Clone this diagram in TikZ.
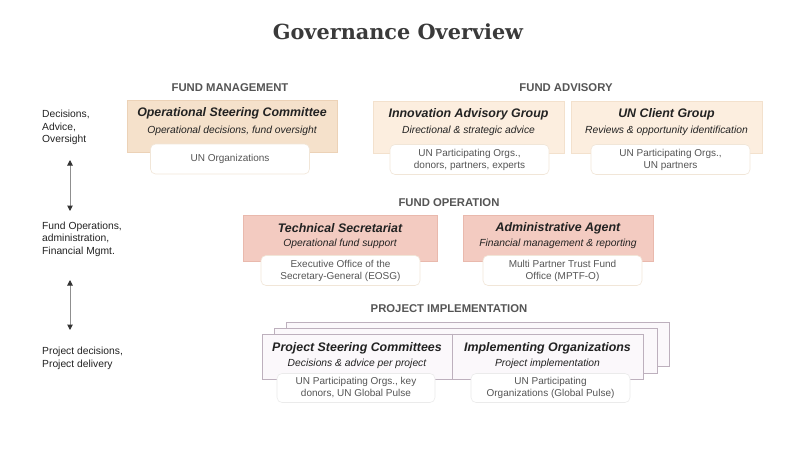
\documentclass[tikz,border=0pt]{standalone}
\usepackage{fontspec}
\setmainfont{Liberation Sans}
\newfontfamily\titlefont{DejaVu Serif}
\usetikzlibrary{arrows.meta}
\definecolor{titlegray}{HTML}{3A3A3A}
\definecolor{catgray}{HTML}{555555}
\definecolor{txtdark}{HTML}{222222}
\definecolor{txtgray}{HTML}{555555}
\definecolor{mgmtfill}{HTML}{F5E1CB}
\definecolor{mgmtdraw}{HTML}{ECD2B7}
\definecolor{advfill}{HTML}{FCEEDF}
\definecolor{advdraw}{HTML}{F3E1CD}
\definecolor{opfill}{HTML}{F3CBC1}
\definecolor{opdraw}{HTML}{E9B9AD}
\definecolor{prjfill}{HTML}{FBF8FB}
\definecolor{prjdraw}{HTML}{BDB0BD}
\definecolor{wbdraw}{HTML}{F1E6D8}
\definecolor{arrgray}{HTML}{8F8F8F}
\definecolor{arrhead}{HTML}{333333}
\begin{document}
\begin{tikzpicture}[x=1pt,y=-1pt,
  catlabel/.style={font=\fontsize{11.3}{13}\selectfont\bfseries, text=catgray, inner sep=0pt},
  boxtitle/.style={font=\fontsize{12.4}{14}\selectfont\bfseries\itshape, text=txtdark, inner sep=0pt},
  boxsub/.style={font=\fontsize{10.3}{12}\selectfont\itshape, text=txtdark, inner sep=0pt},
  whitebox/.style={draw=wbdraw, line width=0.6pt, fill=white, rounded corners=5pt, minimum width=159pt, minimum height=30pt, inner sep=0pt, align=center, text=txtgray, font=\fontsize{10}{12}\selectfont},
  mgmtbox/.style={draw=mgmtdraw, fill=mgmtfill, line width=0.6pt, inner sep=0pt},
  advbox/.style={draw=advdraw, fill=advfill, line width=0.6pt, inner sep=0pt},
  opbox/.style={draw=opdraw, fill=opfill, line width=0.6pt, inner sep=0pt},
  prjbox/.style={draw=prjdraw, fill=prjfill, line width=0.7pt, inner sep=0pt},
  sidelabel/.style={anchor=west, align=left, inner sep=0pt, text=txtdark, font=\fontsize{10.3}{12.4}\selectfont},
  biarrow/.style={draw=arrgray, line width=1pt, {Triangle[length=5.5pt,width=5.5pt,color=arrhead]}-{Triangle[length=5.5pt,width=5.5pt,color=arrhead]}}
]
\useasboundingbox (0,0) rectangle (800,448);
\fill[white] (0,0) rectangle (800,448);

% Title
\node[inner sep=0pt, text=titlegray, font=\fontsize{20.8}{24}\selectfont\titlefont\bfseries] (title) at (398,32) {Governance Overview};

% Side labels
\node[sidelabel] (side1) at (42,127.5) {Decisions,\\Advice,\\Oversight};
\node[sidelabel] (side2) at (42,239) {Fund Operations,\\administration,\\Financial Mgmt.};
\node[sidelabel] (side3) at (42,358.5) {Project decisions,\\Project delivery};
\coordinate (a1top) at (70,160);
\coordinate (a1bot) at (70,211);
\coordinate (a2top) at (70,280);
\coordinate (a2bot) at (70,330);
\draw[biarrow] (a1top) -- (a1bot);
\draw[biarrow] (a2top) -- (a2bot);

% Fund management
\node[catlabel] (catmgmt) at (230,88) {FUND MANAGEMENT};
\node[mgmtbox, minimum width=210pt, minimum height=52pt] (osc) at (232,126) {};
\node[boxtitle] (osct) at (232,113) {Operational Steering Committee};
\node[boxsub] (oscs) at (232,131) {Operational decisions, fund oversight};
\node[whitebox] (oscw) at (230,159) {UN Organizations};

% Fund advisory
\node[catlabel] (catadv) at (566,88) {FUND ADVISORY};
\node[advbox, minimum width=191pt, minimum height=52pt] (iag) at (468.5,127) {};
\node[boxtitle] (iagt) at (468.5,114) {Innovation Advisory Group};
\node[boxsub] (iags) at (468.5,131) {Directional \& strategic advice};
\node[whitebox] (iagw) at (469.5,159.5) {UN Participating Orgs.,\\donors, partners, experts};

\node[advbox, minimum width=191pt, minimum height=52pt] (ucg) at (666.5,127) {};
\node[boxtitle] (ucgt) at (666.5,114) {UN Client Group};
\node[boxsub] (ucgs) at (666.5,131) {Reviews \& opportunity identification};
\node[whitebox] (ucgw) at (670.5,159.5) {UN Participating Orgs.,\\UN partners};

% Fund operation
\node[catlabel] (catop) at (449,203) {FUND OPERATION};
\node[opbox, minimum width=194pt, minimum height=46pt] (ts) at (340,238) {};
\node[boxtitle] (tst) at (340,228) {Technical Secretariat};
\node[boxsub] (tss) at (340,244) {Operational fund support};
\node[whitebox] (tsw) at (340.5,270.5) {Executive Office of the\\Secretary-General (EOSG)};

\node[opbox, minimum width=190pt, minimum height=46pt] (aa) at (558,238) {};
\node[boxtitle] (aat) at (558,228) {Administrative Agent};
\node[boxsub] (aas) at (558,244) {Financial management \& reporting};
\node[whitebox] (aaw) at (562.5,270.5) {Multi Partner Trust Fund\\Office (MPTF-O)};

% Project implementation
\node[catlabel] (catprj) at (449,309) {PROJECT IMPLEMENTATION};
\node[prjbox, minimum width=383pt, minimum height=44pt] (pback) at (477.5,344) {};
\node[prjbox, minimum width=383pt, minimum height=45pt] (pmid) at (465.5,350.5) {};
\node[prjbox, minimum width=381pt, minimum height=45pt] (pfront) at (452.5,356.5) {};
\coordinate (divx) at (452,0);
\draw[draw=prjdraw, line width=0.7pt] (pfront.north -| divx) -- (pfront.south -| divx);
\node[boxtitle] (psct) at (357,348) {Project Steering Committees};
\node[boxsub] (pscs) at (357,364) {Decisions \& advice per project};
\node[whitebox, draw=black!8, minimum width=158pt, minimum height=29pt] (pscw) at (356,388) {UN Participating Orgs., key\\donors, UN Global Pulse};
\node[boxtitle] (iot) at (547.5,348) {Implementing Organizations};
\node[boxsub] (ios) at (547.5,364) {Project implementation};
\node[whitebox, draw=black!8, minimum width=159pt, minimum height=29pt] (iow) at (550.5,388) {UN Participating\\Organizations (Global Pulse)};
\end{tikzpicture}
\end{document}
